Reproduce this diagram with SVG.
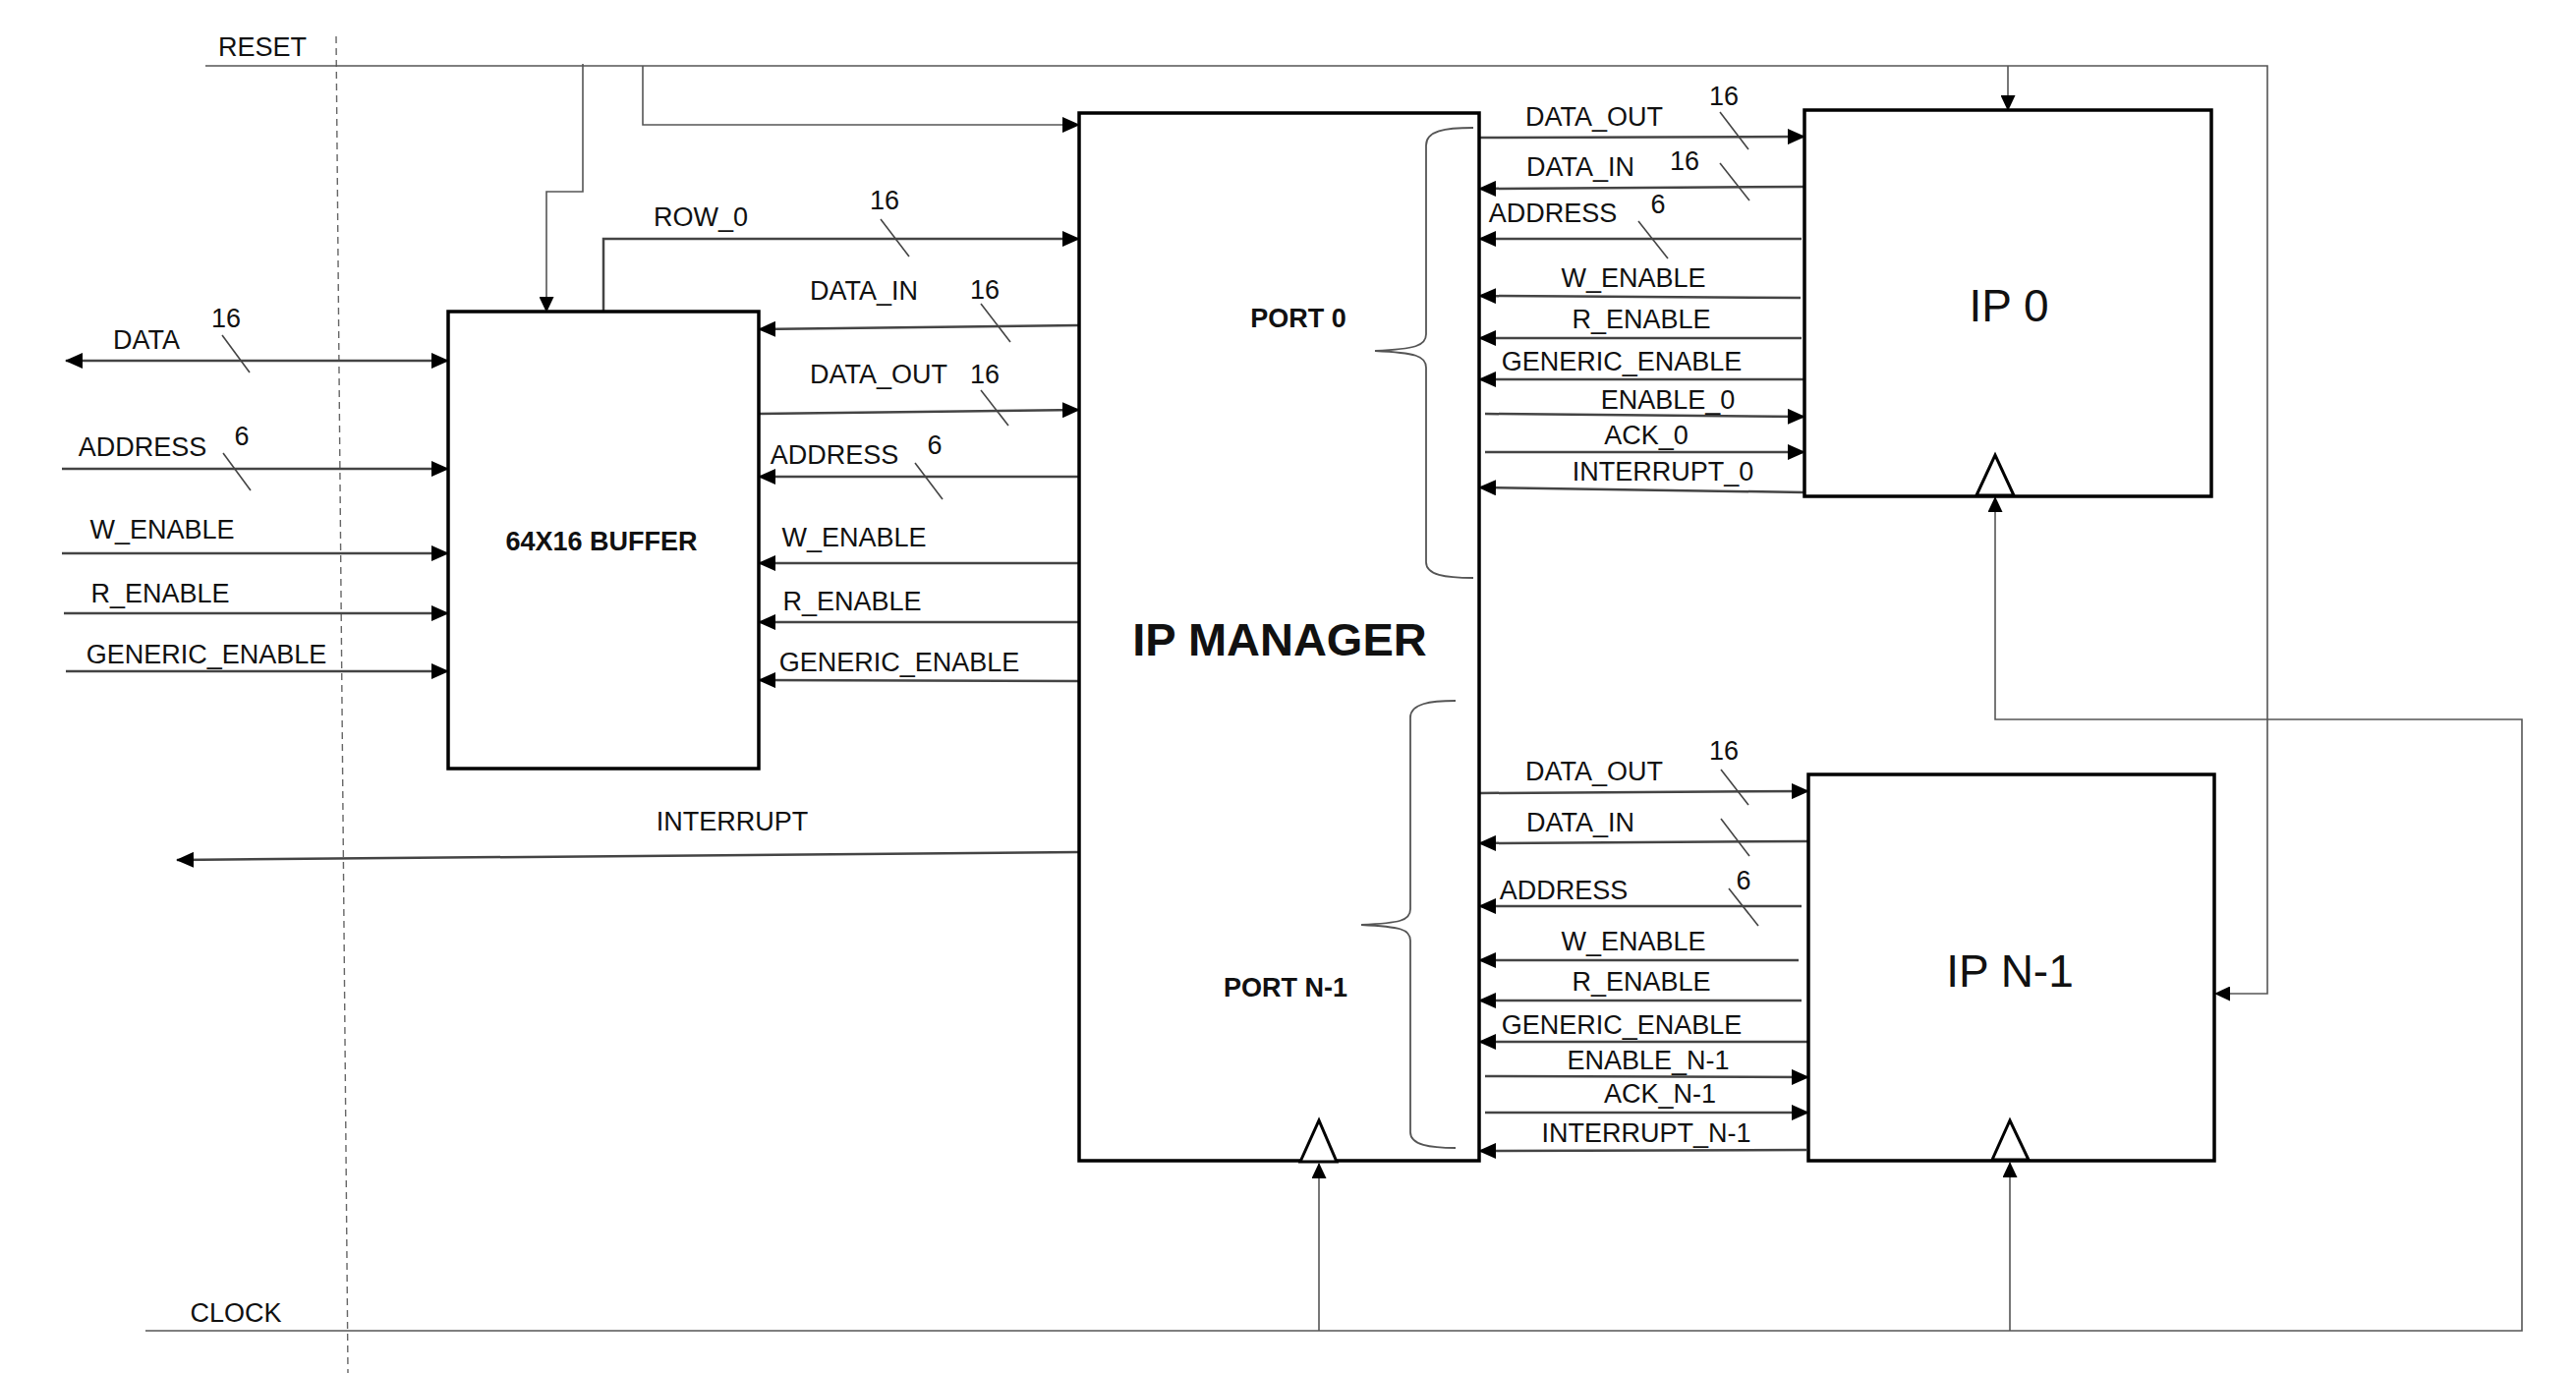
<svg xmlns="http://www.w3.org/2000/svg" width="2621" height="1397" viewBox="0 0 2621 1397">
<style>
  text { font-family: "Liberation Sans", Arial, sans-serif; fill: #111; }
  .lbl { font-size: 27px; text-anchor: middle; }
  .big { font-size: 46px; text-anchor: middle; }
  .bold { font-weight: bold; text-anchor: middle; }
  .box { fill: #fff; stroke: #000; stroke-width: 3.5; }
  .sig { fill: none; stroke: #444; stroke-width: 2.5; }
  .thin { fill: none; stroke: #555; stroke-width: 1.6; }
  .slash { fill: none; stroke: #444; stroke-width: 1.6; }
  .brace { fill: none; stroke: #555; stroke-width: 1.8; }
  .clk { fill: #fff; stroke: #000; stroke-width: 3; stroke-linejoin: miter; }
</style>
<defs>
  <marker id="ah" markerUnits="userSpaceOnUse" markerWidth="18" markerHeight="16" viewBox="0 0 18 16" refX="17" refY="8" orient="auto-start-reverse">
    <path d="M0,0 L18,8 L0,16 z" fill="#000"/>
  </marker>
  <marker id="ahs" markerUnits="userSpaceOnUse" markerWidth="16" markerHeight="15" viewBox="0 0 16 15" refX="15" refY="7.5" orient="auto">
    <path d="M0,0 L16,7.5 L0,15 z" fill="#000"/>
  </marker>
</defs>
<rect width="2621" height="1397" fill="#fff"/>

<!-- boundary dashed line -->
<line x1="342" y1="37" x2="354" y2="1397" stroke="#666" stroke-width="1.4" stroke-dasharray="7 5"/>

<g id="connectors">
  <!-- RESET network -->
  <path class="thin" d="M209,67 H2307 V1011 H2254" marker-end="url(#ahs)"/>
  <path class="thin" d="M2043,67 V112" marker-end="url(#ahs)"/>
  <path class="thin" d="M654,67 V127 H1098" marker-end="url(#ah)"/>
  <path class="thin" d="M593,65 V195 H556 V317" marker-end="url(#ahs)"/>
  <!-- CLOCK network -->
  <path class="thin" d="M148,1354 H2566 V732 H2030 V506" marker-end="url(#ahs)"/>
  <path class="thin" d="M1342,1354 V1184" marker-end="url(#ahs)"/>
  <path class="thin" d="M2045,1354 V1183" marker-end="url(#ahs)"/>

  <!-- left inputs to buffer -->
  <path class="sig" d="M67,367 H456" marker-start="url(#ah)" marker-end="url(#ah)"/>
  <path class="sig" d="M63,477 H456" marker-end="url(#ah)"/>
  <path class="sig" d="M63,563 H456" marker-end="url(#ah)"/>
  <path class="sig" d="M65,624 H456" marker-end="url(#ah)"/>
  <path class="sig" d="M67,683 H456" marker-end="url(#ah)"/>

  <!-- buffer <-> manager -->
  <path class="sig" d="M614,317 V243 H1098" marker-end="url(#ah)"/>
  <path class="sig" d="M1098,331 L772,335" marker-end="url(#ah)"/>
  <path class="sig" d="M772,421 L1098,417" marker-end="url(#ah)"/>
  <path class="sig" d="M1098,485 L772,485" marker-end="url(#ah)"/>
  <path class="sig" d="M1098,573 L772,573" marker-end="url(#ah)"/>
  <path class="sig" d="M1098,633 L772,633" marker-end="url(#ah)"/>
  <path class="sig" d="M1098,693 L772,692" marker-end="url(#ah)"/>

  <!-- interrupt out -->
  <path class="sig" d="M1098,867 L180,875" marker-end="url(#ah)"/>

  <!-- port 0 -->
  <path class="sig" d="M1505,140 L1836,139" marker-end="url(#ah)"/>
  <path class="sig" d="M1836,190 L1505,192" marker-end="url(#ah)"/>
  <path class="sig" d="M1833,243 L1505,243" marker-end="url(#ah)"/>
  <path class="sig" d="M1832,303 L1505,301" marker-end="url(#ah)"/>
  <path class="sig" d="M1833,344 L1505,344" marker-end="url(#ah)"/>
  <path class="sig" d="M1838,386 L1505,386" marker-end="url(#ah)"/>
  <path class="sig" d="M1511,421 L1836,424" marker-end="url(#ah)"/>
  <path class="sig" d="M1511,460 L1836,460" marker-end="url(#ah)"/>
  <path class="sig" d="M1836,501 L1505,496" marker-end="url(#ah)"/>

  <!-- port N-1 -->
  <path class="sig" d="M1505,807 L1840,805" marker-end="url(#ah)"/>
  <path class="sig" d="M1840,856 L1505,858" marker-end="url(#ah)"/>
  <path class="sig" d="M1833,922 L1505,922" marker-end="url(#ah)"/>
  <path class="sig" d="M1830,977 L1505,977" marker-end="url(#ah)"/>
  <path class="sig" d="M1833,1018 L1505,1018" marker-end="url(#ah)"/>
  <path class="sig" d="M1840,1060 L1505,1060" marker-end="url(#ah)"/>
  <path class="sig" d="M1511,1095 L1840,1096" marker-end="url(#ah)"/>
  <path class="sig" d="M1511,1132 L1840,1132" marker-end="url(#ah)"/>
  <path class="sig" d="M1838,1170 L1505,1171" marker-end="url(#ah)"/>

  <!-- bus width slashes -->
  <g class="slash">
    <line x1="226" y1="341" x2="254" y2="379"/>
    <line x1="227" y1="461" x2="255" y2="499"/>
    <line x1="896" y1="223" x2="925" y2="261"/>
    <line x1="998" y1="309" x2="1028" y2="348"/>
    <line x1="998" y1="397" x2="1026" y2="433"/>
    <line x1="931" y1="471" x2="959" y2="508"/>
    <line x1="1750" y1="114" x2="1779" y2="152"/>
    <line x1="1750" y1="166" x2="1780" y2="204"/>
    <line x1="1667" y1="225" x2="1697" y2="263"/>
    <line x1="1751" y1="783" x2="1779" y2="819"/>
    <line x1="1751" y1="833" x2="1780" y2="871"/>
    <line x1="1759" y1="904" x2="1789" y2="942"/>
  </g>

  <!-- connector labels -->
  <g class="lbl">
    <text x="267" y="57">RESET</text>
    <text x="240" y="1345">CLOCK</text>
    <text x="149" y="355">DATA</text>
    <text x="230" y="333">16</text>
    <text x="145" y="464">ADDRESS</text>
    <text x="246" y="453">6</text>
    <text x="165" y="548">W_ENABLE</text>
    <text x="163" y="613">R_ENABLE</text>
    <text x="210" y="675">GENERIC_ENABLE</text>
    <text x="745" y="845">INTERRUPT</text>

    <text x="713" y="230">ROW_0</text>
    <text x="900" y="213">16</text>
    <text x="879" y="305">DATA_IN</text>
    <text x="1002" y="304">16</text>
    <text x="894" y="390">DATA_OUT</text>
    <text x="1002" y="390">16</text>
    <text x="849" y="472">ADDRESS</text>
    <text x="951" y="462">6</text>
    <text x="869" y="556">W_ENABLE</text>
    <text x="867" y="621">R_ENABLE</text>
    <text x="915" y="683">GENERIC_ENABLE</text>

    <text x="1622" y="128">DATA_OUT</text>
    <text x="1754" y="107">16</text>
    <text x="1608" y="179">DATA_IN</text>
    <text x="1714" y="173">16</text>
    <text x="1580" y="226">ADDRESS</text>
    <text x="1687" y="217">6</text>
    <text x="1662" y="292">W_ENABLE</text>
    <text x="1670" y="334">R_ENABLE</text>
    <text x="1650" y="377">GENERIC_ENABLE</text>
    <text x="1697" y="416">ENABLE_0</text>
    <text x="1675" y="452">ACK_0</text>
    <text x="1692" y="489">INTERRUPT_0</text>

    <text x="1622" y="794">DATA_OUT</text>
    <text x="1754" y="773">16</text>
    <text x="1608" y="846">DATA_IN</text>
    <text x="1591" y="915">ADDRESS</text>
    <text x="1774" y="905">6</text>
    <text x="1662" y="967">W_ENABLE</text>
    <text x="1670" y="1008">R_ENABLE</text>
    <text x="1650" y="1052">GENERIC_ENABLE</text>
    <text x="1677" y="1088">ENABLE_N-1</text>
    <text x="1689" y="1122">ACK_N-1</text>
    <text x="1675" y="1162">INTERRUPT_N-1</text>
  </g>
</g>

<g id="buffer">
  <rect class="box" x="456" y="317" width="316" height="465"/>
  <text class="bold" x="612" y="560" font-size="27">64X16 BUFFER</text>
</g>

<g id="ip-manager">
  <rect class="box" x="1098" y="115" width="407" height="1066"/>
  <text class="bold" x="1302" y="667" font-size="47">IP MANAGER</text>
  <text class="bold" x="1321" y="333" font-size="27">PORT 0</text>
  <text class="bold" x="1308" y="1014" font-size="27">PORT N-1</text>
  <path class="brace" d="M1499,130 C1470,130 1451,133 1451,148 L1451,340 C1451,352 1440,355 1399,357 C1440,359 1451,362 1451,374 L1451,572 C1451,585 1470,588 1499,588"/>
  <path class="brace" d="M1481,713 C1455,713 1435,716 1435,730 L1435,925 C1435,937 1424,939 1385,941 C1424,943 1435,945 1435,957 L1435,1152 C1435,1165 1455,1168 1481,1168"/>
  <polygon class="clk" points="1323,1182 1342,1140 1360,1182"/>
</g>

<g id="ip-0">
  <rect class="box" x="1836" y="112" width="414" height="393"/>
  <text class="big" x="2044" y="327">IP 0</text>
  <polygon class="clk" points="2011,504 2030,463 2049,504"/>
</g>

<g id="ip-n-1">
  <rect class="box" x="1840" y="788" width="413" height="393"/>
  <text class="big" x="2045" y="1004">IP N-1</text>
  <polygon class="clk" points="2027,1180 2045,1140 2064,1180"/>
</g>
</svg>
